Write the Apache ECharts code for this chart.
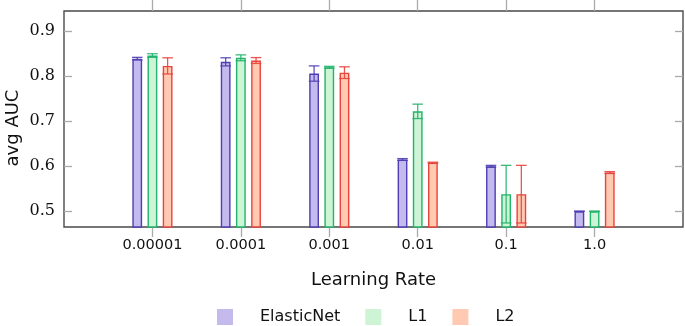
<!DOCTYPE html>
<html>
<head>
<meta charset="utf-8">
<script src="https://cdn.jsdelivr.net/npm/echarts@6/dist/echarts.min.js"></script>
<style>
  html, body { margin: 0; padding: 0; background: #fff; }
  #chart { width: 685px; height: 326px; }
</style>
</head>
<body>
<div id="chart"></div>
<script>
// learning rates on the x axis
var categories = ['0.00001', '0.0001', '0.001', '0.01', '0.1', '1.0'];
var yTicks = [0.5, 0.6, 0.7, 0.8, 0.9];

// mean avg AUC per learning rate
var elasticNet = [0.839, 0.832, 0.806, 0.615, 0.600, 0.500];
var l1 = [0.846, 0.841, 0.820, 0.722, 0.538, 0.500];
var l2 = [0.823, 0.835, 0.808, 0.608, 0.538, 0.586];

// error (half height of the error bar)
var elasticNetErr = [0.003, 0.009, 0.017, 0.002, 0.002, 0.000];
var l1Err = [0.004, 0.0065, 0.002, 0.016, 0.064, 0.000];
var l2Err = [0.018, 0.0065, 0.013, 0.001, 0.064, 0.002];

var chart = echarts.init(document.getElementById('chart'));

var fills = ['#c5baee', '#cdf4d4', '#ffc9b2'];
var strokes = ['#4f3fb2', '#22b46c', '#e8443c'];
var barWidth = 9.8;
var barGap = 0.55;

// pad one empty slot on each side, like the reference x range
function pad(arr) {
	return [null].concat(arr, [null]);
}

function errData(mean, err) {
	return mean.map(function (m, i) {
		return [i + 1, m - err[i], m + err[i]];
	});
}

function errSeries(k, mean, err) {
	return {
		type: 'custom',
		xAxisIndex: 0,
		yAxisIndex: 0,
		z: 5,
		silent: true,
		data: errData(mean, err),
		renderItem: function (params, api) {
			var off = (k - 1) * barWidth * (1 + barGap);
			var lo = api.coord([api.value(0), api.value(1)]);
			var hi = api.coord([api.value(0), api.value(2)]);
			var x = lo[0] + off;
			var hw = 5.3;
			var style = { stroke: strokes[k], lineWidth: 1.3, opacity: 0.9 };
			return {
				type: 'group',
				children: [
					{ type: 'line', shape: { x1: x, y1: lo[1], x2: x, y2: hi[1] }, style: style },
					{ type: 'line', shape: { x1: x - hw, y1: lo[1], x2: x + hw, y2: lo[1] }, style: style },
					{ type: 'line', shape: { x1: x - hw, y1: hi[1], x2: x + hw, y2: hi[1] }, style: style }
				]
			};
		}
	};
}

function barSeries(k, name, values) {
	return {
		name: name,
		type: 'bar',
		xAxisIndex: 0,
		yAxisIndex: 0,
		barWidth: barWidth,
		barGap: (barGap * 100) + '%',
		data: pad(values),
		itemStyle: {
			color: fills[k],
			borderColor: strokes[k],
			borderWidth: 1.4
		}
	};
}

var tickFn = function (i) { return i > 0 && i <= categories.length; };
var axisData = [''].concat(categories, ['']);

var option = {
	animation: false,
	color: fills,
	grid: {
		left: 64,
		top: 11,
		right: 2,
		bottom: 99,
		outerBoundsMode: 'none',
		show: true,
		borderColor: '#4a4a4a',
		borderWidth: 1.4,
		backgroundColor: 'transparent'
	},
	legend: {
		left: 217,
		top: 309,
		padding: 0,
		icon: 'rect',
		itemWidth: 16,
		itemHeight: 16,
		itemGap: 25,
		itemStyle: { borderWidth: 0 },
		textStyle: {
			fontFamily: 'DejaVu Sans',
			fontSize: 16,
			color: '#111',
			padding: [0, 0, 0, 22]
		},
		data: ['ElasticNet', 'L1', 'L2']
	},
	xAxis: [{
		type: 'category',
		position: 'bottom',
		data: axisData,
		boundaryGap: false,
		name: 'Learning Rate',
		nameLocation: 'middle',
		nameGap: 44,
		nameMoveOverlap: false,
		nameTextStyle: { fontFamily: 'DejaVu Sans', fontSize: 18, color: '#111' },
		axisLine: { show: false },
		axisTick: { show: true, inside: false, length: 10, interval: tickFn, lineStyle: { color: '#aaa', width: 1.3 } },
		axisLabel: { interval: 0, margin: 11, fontFamily: 'DejaVu Sans', fontSize: 14.5, color: '#111' },
		splitLine: { show: false }
	}, {
		type: 'category',
		position: 'top',
		data: axisData,
		boundaryGap: false,
		axisLine: { show: false },
		axisTick: { show: true, inside: false, length: 11, interval: tickFn, lineStyle: { color: '#aaa', width: 1.3 } },
		axisLabel: { show: false },
		splitLine: { show: false }
	}],
	yAxis: [{
		type: 'value',
		position: 'left',
		min: 0.465,
		max: 0.945,
		name: 'avg AUC',
		nameLocation: 'middle',
		nameGap: 42,
		nameMoveOverlap: false,
		nameTextStyle: { fontFamily: 'DejaVu Sans', fontSize: 18, color: '#111', padding: [0, 18, 0, 0] },
		axisLine: { show: false },
		axisTick: { show: true, inside: true, length: 8, customValues: yTicks, lineStyle: { color: '#aaa', width: 1.3 } },
		axisLabel: { margin: 9, customValues: yTicks, fontFamily: 'DejaVu Serif', fontSize: 16, color: '#111',
			formatter: function (v) { return v.toFixed(1); } },
		splitLine: { show: false }
	}, {
		type: 'value',
		position: 'right',
		min: 0.465,
		max: 0.945,
		axisLine: { show: false },
		axisTick: { show: true, inside: true, length: 8, customValues: yTicks, lineStyle: { color: '#aaa', width: 1.3 } },
		axisLabel: { show: false },
		splitLine: { show: false }
	}],
	series: [
		barSeries(0, 'ElasticNet', elasticNet),
		barSeries(1, 'L1', l1),
		barSeries(2, 'L2', l2),
		errSeries(0, elasticNet, elasticNetErr),
		errSeries(1, l1, l1Err),
		errSeries(2, l2, l2Err)
	]
};

chart.setOption(option);
</script>
</body>
</html>
